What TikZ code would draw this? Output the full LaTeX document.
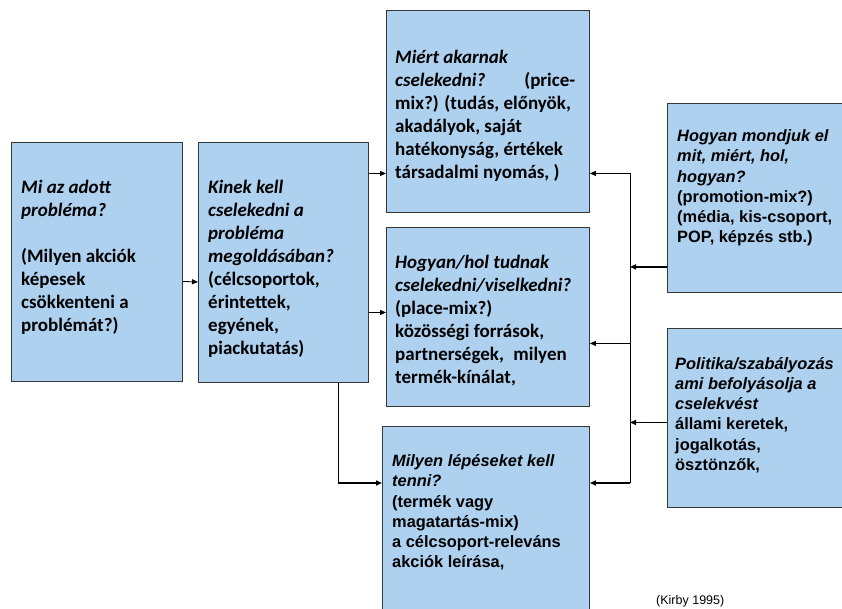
\documentclass[tikz,border=0pt]{standalone}
\usepackage{fontspec}
\usetikzlibrary{arrows.meta,calc}
\newfontfamily\calibfont{Carlito}
\newfontfamily\arialfont{Liberation Sans}
\definecolor{boxblue}{RGB}{174,209,240}
\definecolor{edgegray}{RGB}{55,55,55}

\begin{document}
\begin{tikzpicture}[x=1pt,y=-1pt,
  panel/.style={draw=edgegray, line width=0.9pt, fill=boxblue, anchor=north west, inner sep=0pt},
  ctext/.style={anchor=west, align=left, inner sep=0pt,
    font=\calibfont\bfseries\fontsize{19}{23}\selectfont},
  atext/.style={anchor=west, align=left, inner sep=0pt,
    font=\arialfont\bfseries\fontsize{16.4}{20.2}\selectfont},
  arr/.style={-{Triangle[length=6pt,width=5pt]}, line width=0.8pt},
  arrthick/.style={arr, line width=1.5pt},
]
\useasboundingbox (0,0) rectangle (842,608);
\clip (0,0) rectangle (842,608);

% boxes
\node[panel, minimum width=171pt, minimum height=239pt] (box1) at (11,142) {};
\node[panel, minimum width=170pt, minimum height=240pt] (box2) at (198,142) {};
\node[panel, minimum width=203pt, minimum height=202pt] (box3) at (386,10) {};
\node[panel, minimum width=203pt, minimum height=179pt] (box4) at (386,227) {};
\node[panel, minimum width=207pt, minimum height=230pt] (box5) at (382,426) {};
\node[panel, minimum width=200pt, minimum height=189pt] (box6) at (667,103) {};
\node[panel, minimum width=200pt, minimum height=179pt] (box7) at (667,328) {};

% connection points
\coordinate (bus) at (630,0);
\coordinate (b3in) at ([yshift=-62pt]box3.west);
\coordinate (b4in) at ([yshift=4.5pt]box4.west);
\coordinate (b5in) at ([yshift=-57pt]box5.north west);
\coordinate (b3out) at ([yshift=-62pt]box3.east);
\coordinate (b4out) at ([yshift=-26.5pt]box4.east);
\coordinate (b5out) at ([yshift=-57pt]box5.north east);
\coordinate (b6out) at ([yshift=26pt]box6.south west);
\coordinate (b7out) at ([yshift=-4.5pt]box7.west);

% left-hand flow
\draw[arr] ([yshift=-19.5pt]box1.east) -- ([yshift=-19.5pt]box2.west);
\draw[arr] (box2.east |- b3in) -- (b3in);
\draw[arr] (box2.east |- b4in) -- (b4in);
\draw[arrthick] ([xshift=55pt]box2.south) |- (b5in);

% right-hand bus
\draw[line width=0.8pt] (bus |- b3out) -- (bus |- b5out);
\draw[arr] (bus |- b3out) -- (b3out);
\draw[arr, line width=1.2pt] (bus |- b4out) -- (b4out);
\draw[arrthick] (bus |- b5out) -- (b5out);
\draw[arrthick] (b6out) -- (bus |- b6out);
\draw[arrthick] (b7out) -- (bus |- b7out);

% texts
\node[ctext] (t1) at (21,257.5) {\textit{Mi az adott}\\\textit{probléma?}\\[23pt]
  (Milyen akciók\\képesek\\csökkenteni a\\problémát?)};
\node[ctext] (t2) at (208,268.5) {\textit{Kinek kell}\\\textit{cselekedni a}\\\textit{probléma}\\
  \textit{megoldásában?}\\(célcsoportok,\\érintettek,\\egyének,\\piackutatás)};
\node[ctext] (t3) at (395,115.5) {\textit{Miért akarnak}\\
  \hbox to 180pt{\textit{cselekedni?}\hfill(price-}\\mix?) (tudás, előnyök,\\
  akadályok, saját\\hatékonyság, értékek\\társadalmi nyomás, )};
\node[ctext] (t4) at (395,321) {\textit{Hogyan/hol tudnak}\\\textit{cselekedni/viselkedni?}\\
  (place-mix?)\\közösségi források,\\partnerségek,\enspace milyen\\termék-kínálat,};
\node[atext] (t5) at (392,512.5) {\textit{Milyen lépéseket kell}\\\textit{tenni?}\\
  (termék vagy\\magatartás-mix)\\a célcsoport-releváns\\akciók leírása,};
\node[atext] (t6) at (677,188) {\textit{Hogyan mondjuk el}\\\textit{mit, miért, hol,}\\
  \textit{hogyan?}\\(promotion-mix?)\\(média, kis-csoport,\\POP, képzés stb.)};
\node[atext] (t7) at (675,415) {\textit{Politika/szabályozás}\\\textit{ami befolyásolja a}\\
  \textit{cselekvést}\\állami keretek,\\jogalkotás,\\ösztönzők,};

\node[anchor=north west, inner sep=0pt, font=\arialfont\fontsize{12.5}{14}\selectfont]
  (src) at (656,595) {(Kirby 1995)};
\end{tikzpicture}
\end{document}
